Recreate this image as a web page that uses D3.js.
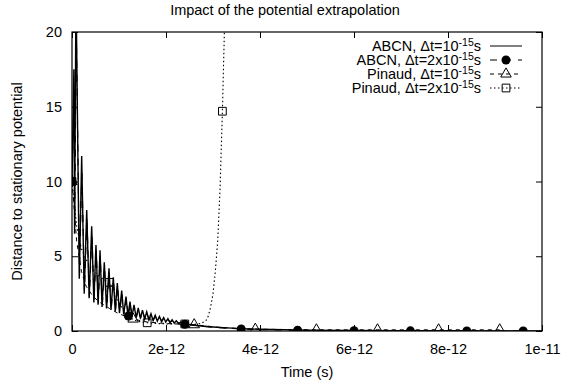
<!doctype html>
<html>
<head>
<style>
    body { margin: 0; background: #fff; }
    text { font-family: "Liberation Sans", Arial, sans-serif; font-size: 14.5px; fill: #000; }
</style>
<script src="https://d3js.org/d3.v7.min.js"></script>
</head>
<body>
<svg width="563" height="387"></svg>
<script>
// times are in picoseconds, scaled to seconds for the axis
var ps = 1e-12;
var xTicks = [0, 2, 4, 6, 8, 10];
var xTickLabels = ["0", "2e-12", "4e-12", "6e-12", "8e-12", "1e-11"];
var yTicks = [0, 5, 10, 15, 20];
var seriesNames = ["ABCN, \u0394t=10", "ABCN, \u0394t=2x10", "Pinaud, \u0394t=10", "Pinaud, \u0394t=2x10"];

var abcn1 = [[0,10],[0.04,17.5],[0.055,6.5],[0.085,23],[0.155,3.5],[0.206,11.7],[0.26,2.5],[0.313,8.1],
    [0.365,2.2],[0.419,7.0],[0.465,1.9],[0.51,5.75],[0.555,1.75],[0.596,5.4],[0.64,1.6],[0.687,4.6],
    [0.735,1.5],[0.787,4.2],[0.83,1.4],[0.879,3.6],[0.92,1.3],[0.964,3.2],[1.01,1.2],[1.057,2.7],
    [1.1,1.1],[1.149,2.3],[1.19,1.0],[1.234,1.96],[1.275,0.95],[1.319,1.74],[1.365,0.9],[1.41,1.55],
    [1.455,0.85],[1.5,1.4],[1.545,0.8],[1.59,1.28],[1.635,0.75],[1.68,1.15],[1.725,0.7],[1.77,1.05],
    [1.815,0.66],[1.86,0.97],[1.905,0.63],[1.95,0.9],[1.995,0.6],[2.04,0.82],[2.085,0.56],[2.13,0.75],
    [2.175,0.53],[2.22,0.68],[2.265,0.5],[2.31,0.6],[2.355,0.47],[2.4,0.55],[2.45,0.44],[2.6,0.38],
    [2.8,0.32],[3.0,0.27],[3.3,0.21],[3.6,0.16],[4.0,0.12],[4.5,0.09],[5.0,0.06],[6.0,0.035],
    [7.0,0.02],[8.0,0.012],[9.0,0.008],[10.0,0.005]];

var abcn2 = [[0,10],[0.045,16],[0.06,7],[0.09,20.5],[0.16,3.8],[0.21,10.8],[0.265,2.7],[0.318,7.6],
    [0.37,2.3],[0.424,6.5],[0.47,2.0],[0.515,5.4],[0.56,1.85],[0.601,5.0],[0.645,1.7],[0.692,4.3],
    [0.74,1.55],[0.792,3.9],[0.835,1.45],[0.884,3.35],[0.925,1.35],[0.969,3.0],[1.015,1.25],[1.062,2.5],
    [1.105,1.15],[1.154,2.15],[1.2,1.0],[1.239,1.85],[1.28,0.98],[1.324,1.65],[1.37,0.92],[1.415,1.45],
    [1.46,0.87],[1.505,1.32],[1.55,0.82],[1.595,1.2],[1.64,0.77],[1.685,1.08],[1.73,0.72],[1.775,0.98],
    [1.82,0.68],[1.865,0.9],[1.91,0.65],[1.955,0.84],[2.0,0.62],[2.045,0.76],[2.09,0.58],[2.135,0.7],
    [2.18,0.55],[2.225,0.63],[2.27,0.52],[2.315,0.56],[2.36,0.48],[2.4,0.45],[2.7,0.35],[3.0,0.25],
    [3.6,0.13],[4.2,0.08],[4.8,0.05],[6.0,0.02],[7.2,0.01],[8.4,0.005],[9.6,0.003]];
var abcn2Points = [[0,10],[1.2,1.0],[2.4,0.45],[3.6,0.13],[4.8,0.05],[6.0,0.02],[7.2,0.01],[8.4,0.005],[9.6,0.003]];

var pinaud1 = [[0,10],[0.1,6],[0.2,4],[0.3,3],[0.45,2.3],[0.6,1.9],[0.8,1.5],[1.0,1.15],[1.3,0.8],
    [1.6,0.6],[2.0,0.5],[2.6,0.42],[3.2,0.22],[3.9,0.12],[5.2,0.08],[6.5,0.08],[7.8,0.08],[9.1,0.08]];
var pinaud1Points = [[0,10],[1.3,0.8],[2.6,0.42],[3.9,0.12],[5.2,0.08],[6.5,0.08],[7.8,0.08],[9.1,0.08]];

var pinaud2 = [[0,10],[0.1,7],[0.2,5.5],[0.3,4.8],[0.4,4.2],[0.5,3.9],[0.6,3.6],[0.7,3.4],[0.8,3.25],
    [0.9,2.6],[1.0,1.9],[1.1,1.4],[1.2,1.0],[1.3,0.75],[1.45,0.62],[1.6,0.55],[1.8,0.5],[2.0,0.48],
    [2.2,0.47],[2.4,0.47],[2.6,0.45],[2.75,0.5],[2.85,0.7],[2.9,1.0],[2.95,1.6],[3.0,2.5],[3.05,4],
    [3.1,6],[3.15,9.5],[3.2,14.7],[3.25,21]];
var pinaud2Points = [[0,10],[0.8,3.25],[1.6,0.55],[2.4,0.47],[3.2,14.7]];

var svg = d3.select("svg"),
    plotLeft = 72, plotRight = 542, plotTop = 32, plotBottom = 331;

var x = d3.scaleLinear().domain([0, 10 * ps]).range([plotLeft, plotRight]);
var y = d3.scaleLinear().domain([0, 20]).range([plotBottom, plotTop]);

svg.append("clipPath").attr("id", "plot")
    .append("rect").attr("x", plotLeft).attr("y", plotTop)
    .attr("width", plotRight - plotLeft).attr("height", plotBottom - plotTop);

// title and axis labels
svg.append("text").attr("x", 285).attr("y", 15).attr("text-anchor", "middle")
    .text("Impact of the potential extrapolation");
svg.append("text").attr("x", 307).attr("y", 377).attr("text-anchor", "middle").text("Time (s)");
svg.append("text").attr("transform", "translate(22," + ((plotTop + plotBottom) / 2) + ") rotate(-90)")
    .attr("text-anchor", "middle").text("Distance to stationary potential");

// axes, gnuplot style: inward ticks, mirrored
var ax = svg.append("g");
ax.append("g").attr("transform", "translate(0," + plotBottom + ")")
    .call(d3.axisBottom(x).tickValues(xTicks.map(function(d) { return d * ps; }))
        .tickFormat(function(d, i) { return xTickLabels[i]; }).tickSizeInner(-6).tickSizeOuter(0).tickPadding(13));
ax.append("g").attr("transform", "translate(0," + plotTop + ")")
    .call(d3.axisTop(x).tickValues(xTicks.map(function(d) { return d * ps; }))
        .tickFormat("").tickSizeInner(-6).tickSizeOuter(0));
ax.append("g").attr("transform", "translate(" + plotLeft + ",0)")
    .call(d3.axisLeft(y).tickValues(yTicks).tickSizeInner(-6).tickSizeOuter(0).tickPadding(10));
ax.append("g").attr("transform", "translate(" + plotRight + ",0)")
    .call(d3.axisRight(y).tickValues(yTicks).tickFormat("").tickSizeInner(-6).tickSizeOuter(0));
ax.selectAll(".domain").remove();
ax.selectAll("text").attr("font-family", null).attr("font-size", null);
ax.selectAll("line").attr("stroke", "#000");
svg.append("rect").attr("x", plotLeft).attr("y", plotTop)
    .attr("width", plotRight - plotLeft).attr("height", plotBottom - plotTop)
    .attr("fill", "none").attr("stroke", "#000").attr("stroke-width", 1.2);

var line = d3.line()
    .x(function(d) { return x(d[0] * ps); })
    .y(function(d) { return y(d[1]); });

var plot = svg.append("g").attr("clip-path", "url(#plot)");
var styles = [
    { data: abcn1, dash: null, width: 1.4 },
    { data: abcn2, dash: "7,7", width: 1.1 },
    { data: pinaud1, dash: "4,4", width: 1 },
    { data: pinaud2, dash: "1.5,2.5", width: 1.1 }
];
styles.forEach(function(s) {
    plot.append("path").attr("d", line(s.data))
        .attr("fill", "none").attr("stroke", "#000").attr("stroke-width", s.width)
        .attr("stroke-dasharray", s.dash);
});

var triangle = d3.symbol().type(d3.symbolTriangle).size(48);
var square = d3.symbol().type(d3.symbolSquare).size(60);

function drawMarker(g, kind, cx, cy) {
    if (kind === "circle") {
        g.append("circle").attr("cx", cx).attr("cy", cy).attr("r", 4.5).attr("fill", "#000");
    } else {
        g.append("path").attr("d", kind === "triangle" ? triangle() : square())
            .attr("transform", "translate(" + cx + "," + cy + ")")
            .attr("fill", "none").attr("stroke", "#000").attr("stroke-width", 1);
    }
}

var marks = plot.append("g");
pinaud2Points.forEach(function(d) { drawMarker(marks, "square", x(d[0] * ps), y(d[1])); });
pinaud1Points.forEach(function(d) { drawMarker(marks, "triangle", x(d[0] * ps), y(d[1])); });
abcn2Points.forEach(function(d) { drawMarker(marks, "circle", x(d[0] * ps), y(d[1])); });

// legend
var kinds = [null, "circle", "triangle", "square"];
var legend = svg.append("g");
seriesNames.forEach(function(name, i) {
    var ly = 46 + i * 14;
    var t = legend.append("text").attr("x", 481).attr("y", ly + 5).attr("text-anchor", "end");
    t.append("tspan").text(name);
    t.append("tspan").attr("dy", -5.5).attr("font-size", "10.5px").text("-15");
    t.append("tspan").attr("dy", 5.5).text("s");
    legend.append("line").attr("x1", 490).attr("x2", 522).attr("y1", ly).attr("y2", ly)
        .attr("stroke", "#000").attr("stroke-width", 1).attr("stroke-dasharray", styles[i].dash);
    if (kinds[i]) drawMarker(legend, kinds[i], 506, ly);
});
</script>
</body>
</html>
